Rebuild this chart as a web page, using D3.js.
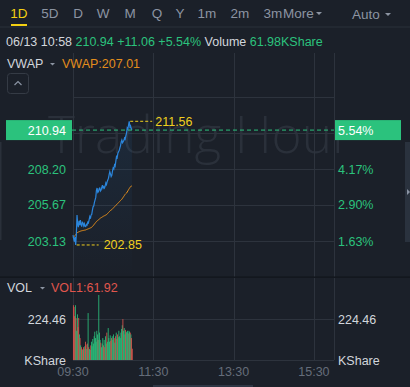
<!DOCTYPE html>
<html><head><meta charset="utf-8">
<script src="https://cdn.jsdelivr.net/npm/d3@7"></script>
<style>
html,body{margin:0;padding:0;background:#1b2029;}
svg{display:block;font-family:"Liberation Sans",Arial,sans-serif;}
</style></head>
<body><svg id="c" width="410" height="387"></svg>
<script>
// ---------- data ----------
const tabs = ["1D","5D","D","W","M","Q","Y","1m","2m","3m","More"];
const tabX = [19,50,78,103,130,157,180,207,240,273,283];
const timeTicks = [0,120,240,360];           // minutes after 09:30
const timeLabels = ["09:30","11:30","13:30","15:30"];
const priceTicks = [203.13,205.67,208.20,210.73,213.27];
const priceLabels = ["203.13","205.67","208.20"];
const pctLabels = ["1.63%","2.90%","4.17%"];
const volTick = 224.46;
const lastPrice = 210.94, highPrice = 211.56, lowPrice = 202.85;
const highMin = 84, lowMin = 4;
const price = [203.55,203.30,203.08,203.40,202.85,203.60,204.96,204.30,204.10,204.55,
 204.25,204.61,204.30,204.14,204.45,204.40,204.20,204.35,204.15,204.14,
 204.30,204.25,204.45,204.40,204.60,204.84,204.70,204.96,205.00,205.30,
 205.54,205.60,205.85,206.02,206.20,206.70,206.86,206.55,206.60,206.80,
 206.86,206.65,206.72,206.90,207.07,206.85,206.95,206.86,207.00,207.21,
 207.10,207.30,207.43,207.55,207.80,208.01,207.85,207.66,207.75,208.05,
 208.27,208.20,208.48,208.40,208.75,209.07,209.00,209.30,209.42,209.50,
 209.68,209.85,210.10,210.24,210.05,210.12,210.20,210.38,210.30,210.55,
 210.73,211.09,211.00,211.30,211.56,211.18,211.25,211.05,210.94];
const vwap = [203.34,203.40,203.46,203.52,203.58,203.65,203.70,203.73,203.76,203.78,
 203.80,203.82,203.84,203.85,203.86,203.87,203.88,203.89,203.90,203.91,
 203.93,203.95,203.97,203.99,204.01,204.03,204.05,204.07,204.10,204.15,
 204.20,204.26,204.32,204.38,204.44,204.50,204.54,204.58,204.62,204.66,
 204.70,204.74,204.77,204.80,204.83,204.86,204.89,204.91,204.93,204.96,
 204.98,205.03,205.08,205.13,205.18,205.23,205.28,205.31,205.34,205.39,
 205.44,205.49,205.54,205.59,205.64,205.68,205.73,205.78,205.83,205.88,
 205.93,205.98,206.02,206.07,206.14,206.21,206.28,206.35,206.42,206.47,
 206.51,206.58,206.66,206.74,206.82,206.89,206.95,207.00,207.01];
const volume = [300,290,240,300,230,160,250,180,230,140,
 120,80,70,60,55,70,60,75,100,85,
 60,90,257,70,60,55,80,100,75,115,
 90,130,155,120,100,160,140,110,356,150,
 110,95,70,90,120,80,110,70,130,90,
 150,100,175,120,100,135,105,120,130,110,
 140,120,95,130,150,115,140,125,160,130,
 120,150,170,190,224,160,175,140,165,155,
 150,160,145,160,155,150,140,120,61.92];

// ---------- colours ----------
const BG="#1b2029", GRID="#2d333d", GREEN="#2bc27d", RED="#e0564d", BLUE="#2b86dc",
      ORANGE="#e38d1c", YELLOW="#f0cf1e", GREYTXT="#8c94a2", LIGHT="#d2d6dc";

const svg = d3.select("#c");
svg.append("rect").attr("width",410).attr("height",387).attr("fill",BG);

// ---------- scales ----------
const x = d3.scaleLinear().domain([0,390]).range([73,334]);
const y = d3.scaleLinear().domain([203.13,208.20]).range([241,169]);
const yv = d3.scaleLinear().domain([0,volTick]).range([360,319]);

// ---------- header ----------
const hdr = svg.append("g").attr("font-size",13.5);
tabs.forEach((t,i)=>{
  hdr.append("text").attr("x",tabX[i]).attr("y",18)
    .attr("text-anchor", i===10 ? "start" : "middle")
    .attr("fill", i===0?"#f3cf12":GREYTXT).text(t);
});
hdr.append("rect").attr("x",11).attr("y",24).attr("width",16).attr("height",2).attr("fill","#f3cf12");
hdr.append("path").attr("d","M316,12 l6,0 l-3,3 z").attr("fill",GREYTXT);
hdr.append("text").attr("x",352).attr("y",19).attr("fill",GREYTXT).text("Auto");
hdr.append("path").attr("d","M385,13 l6,0 l-3,3 z").attr("fill",GREYTXT);
svg.append("rect").attr("x",0).attr("y",26.5).attr("width",410).attr("height",1).attr("fill","#2b313b");

const info = svg.append("text").attr("x",6).attr("y",46).attr("font-size",12.5);
info.append("tspan").attr("fill",LIGHT).text("06/13 10:58 ");
info.append("tspan").attr("fill",GREEN).text("210.94 +11.06 +5.54% ");
info.append("tspan").attr("fill",LIGHT).text("Volume ");
info.append("tspan").attr("fill",GREEN).text("61.98KShare");

// ---------- watermark ----------
svg.append("text").attr("x",48).attr("y",153).attr("font-size",52).attr("font-family","Open Sans, sans-serif")
  .attr("font-weight",300).attr("fill","#2a303a").attr("textLength",304).attr("lengthAdjust","spacingAndGlyphs")
  .text("Trading Hour");

// ---------- grids ----------
const g = svg.append("g").attr("stroke",GRID).attr("stroke-width",1).attr("shape-rendering","crispEdges");
[0,120,240,360,390].forEach(m=>{
  g.append("line").attr("x1",Math.round(x(m))+0.5).attr("x2",Math.round(x(m))+0.5).attr("y1",53).attr("y2",277);
  g.append("line").attr("x1",Math.round(x(m))+0.5).attr("x2",Math.round(x(m))+0.5).attr("y1",278).attr("y2",360);
});
priceTicks.forEach(p=>{
  g.append("line").attr("x1",73).attr("x2",334).attr("y1",Math.round(y(p))+0.5).attr("y2",Math.round(y(p))+0.5);
});
g.append("line").attr("x1",73).attr("x2",334).attr("y1",Math.round(yv(volTick))+0.5).attr("y2",Math.round(yv(volTick))+0.5);
g.append("line").attr("x1",73).attr("x2",334).attr("y1",360.5).attr("y2",360.5);
svg.append("rect").attr("x",0).attr("y",276.5).attr("width",410).attr("height",1.2).attr("fill","#10141a");

// side bars
svg.append("rect").attr("x",405).attr("y",142).attr("width",5).attr("height",100).attr("fill","#2a323e");
svg.append("path").attr("d","M407,189 l3,3 l-3,3 z").attr("fill","#8a93a3");
svg.append("rect").attr("x",0).attr("y",142).attr("width",1.5).attr("height",98).attr("fill","#2a303a");
svg.append("rect").attr("x",153).attr("y",385).attr("width",100).attr("height",2).attr("fill","#2e3644");

// ---------- price area ----------
const defs = svg.append("defs");
const grad = defs.append("linearGradient").attr("id","ga").attr("x1",0).attr("x2",0).attr("y1",0).attr("y2",1);
grad.append("stop").attr("offset","0%").attr("stop-color","#2b86dc").attr("stop-opacity",0.1);
grad.append("stop").attr("offset","100%").attr("stop-color","#2b86dc").attr("stop-opacity",0);
svg.append("path").datum(price)
  .attr("d", d3.area().x((d,i)=>x(i)).y0(277).y1(d=>y(d)))
  .attr("fill","url(#ga)");
svg.append("path").datum(vwap)
  .attr("d", d3.line().x((d,i)=>x(i)).y(d=>y(d)))
  .attr("fill","none").attr("stroke",ORANGE).attr("stroke-width",1);
svg.append("path").datum(price)
  .attr("d", d3.line().x((d,i)=>x(i)).y(d=>y(d)))
  .attr("fill","none").attr("stroke",BLUE).attr("stroke-width",1.2);

// last price line + boxes
svg.append("line").attr("x1",72).attr("x2",334).attr("y1",y(lastPrice)).attr("y2",y(lastPrice))
  .attr("stroke",GREEN).attr("stroke-width",1).attr("stroke-dasharray","4,3");
svg.append("rect").attr("x",6).attr("y",y(lastPrice)-10).attr("width",66).attr("height",20).attr("fill",GREEN);
svg.append("text").attr("x",66).attr("y",y(lastPrice)+4.5).attr("text-anchor","end").attr("font-size",12.5)
  .attr("fill","#ffffff").text(lastPrice.toFixed(2));
svg.append("rect").attr("x",335).attr("y",y(lastPrice)-10).attr("width",66).attr("height",20).attr("fill",GREEN);
svg.append("text").attr("x",338).attr("y",y(lastPrice)+4.5).attr("font-size",12.5)
  .attr("fill","#ffffff").text("5.54%");

// axis labels
priceLabels.forEach((t,i)=>{
  svg.append("text").attr("x",66).attr("y",y(priceTicks[i])+4.5).attr("text-anchor","end")
    .attr("font-size",12.5).attr("fill",GREEN).text(t);
  svg.append("text").attr("x",338).attr("y",y(priceTicks[i])+4.5)
    .attr("font-size",12.5).attr("fill",GREEN).text(pctLabels[i]);
});

// high / low markers
svg.append("line").attr("x1",x(highMin)+1).attr("x2",x(highMin)+23).attr("y1",y(highPrice)).attr("y2",y(highPrice))
  .attr("stroke",YELLOW).attr("stroke-dasharray","3,2");
svg.append("text").attr("x",x(highMin)+26).attr("y",y(highPrice)+4.5).attr("font-size",12.5).attr("fill",YELLOW).text(highPrice.toFixed(2));
svg.append("line").attr("x1",x(lowMin)+1).attr("x2",x(lowMin)+23).attr("y1",y(lowPrice)).attr("y2",y(lowPrice))
  .attr("stroke",YELLOW).attr("stroke-dasharray","3,2");
svg.append("text").attr("x",x(lowMin)+28).attr("y",y(lowPrice)+4.5).attr("font-size",12.5).attr("fill",YELLOW).text(lowPrice.toFixed(2));

// VWAP legend
svg.append("text").attr("x",7).attr("y",68).attr("font-size",12.5).attr("fill",LIGHT).text("VWAP");
svg.append("path").attr("d","M50,63 l5,0 l-2.5,2.5 z").attr("fill",GREYTXT);
svg.append("text").attr("x",62).attr("y",68).attr("font-size",12.5).attr("fill",ORANGE).text("VWAP:" + vwap[vwap.length-1].toFixed(2));
svg.append("rect").attr("x",7.5).attr("y",73.5).attr("width",21).attr("height",20).attr("rx",3)
  .attr("fill","none").attr("stroke","#353b45");
svg.append("path").attr("d","M14.5,85 l3.5,-3.5 l3.5,3.5").attr("fill","none").attr("stroke","#8a93a3").attr("stroke-width",1.2);

// ---------- volume ----------
const bw = x(1)-x(0);
svg.append("g").selectAll("rect").data(volume).join("rect")
  .attr("x",(d,i)=>x(i)-bw/2+0.3)
  .attr("width",bw+0.15)
  .attr("y",d=>yv(d))
  .attr("height",d=>360-yv(d))
  .attr("fill",(d,i)=> i===0 ? RED : (price[i]>=price[i-1] ? GREEN : RED));

svg.append("text").attr("x",7).attr("y",292).attr("font-size",12.5).attr("fill",LIGHT).text("VOL");
svg.append("path").attr("d","M40,287 l5,0 l-2.5,2.5 z").attr("fill",GREYTXT);
svg.append("text").attr("x",51).attr("y",292).attr("font-size",12.5).attr("fill",RED).text("VOL1:" + volume[volume.length-1].toFixed(2));
svg.append("text").attr("x",66).attr("y",yv(volTick)+4.5).attr("text-anchor","end").attr("font-size",12.5).attr("fill",LIGHT).text(volTick.toFixed(2));
svg.append("text").attr("x",338).attr("y",yv(volTick)+4.5).attr("font-size",12.5).attr("fill",LIGHT).text(volTick.toFixed(2));
svg.append("text").attr("x",66).attr("y",364.5).attr("text-anchor","end").attr("font-size",12.5).attr("fill",LIGHT).text("KShare");
svg.append("text").attr("x",338).attr("y",364.5).attr("font-size",12.5).attr("fill",LIGHT).text("KShare");

// time axis
timeTicks.forEach((m,i)=>{
  svg.append("text").attr("x",x(m)).attr("y",376).attr("text-anchor","middle").attr("font-size",12.5)
    .attr("fill","#656d7a").text(timeLabels[i]);
});
</script></body></html>
